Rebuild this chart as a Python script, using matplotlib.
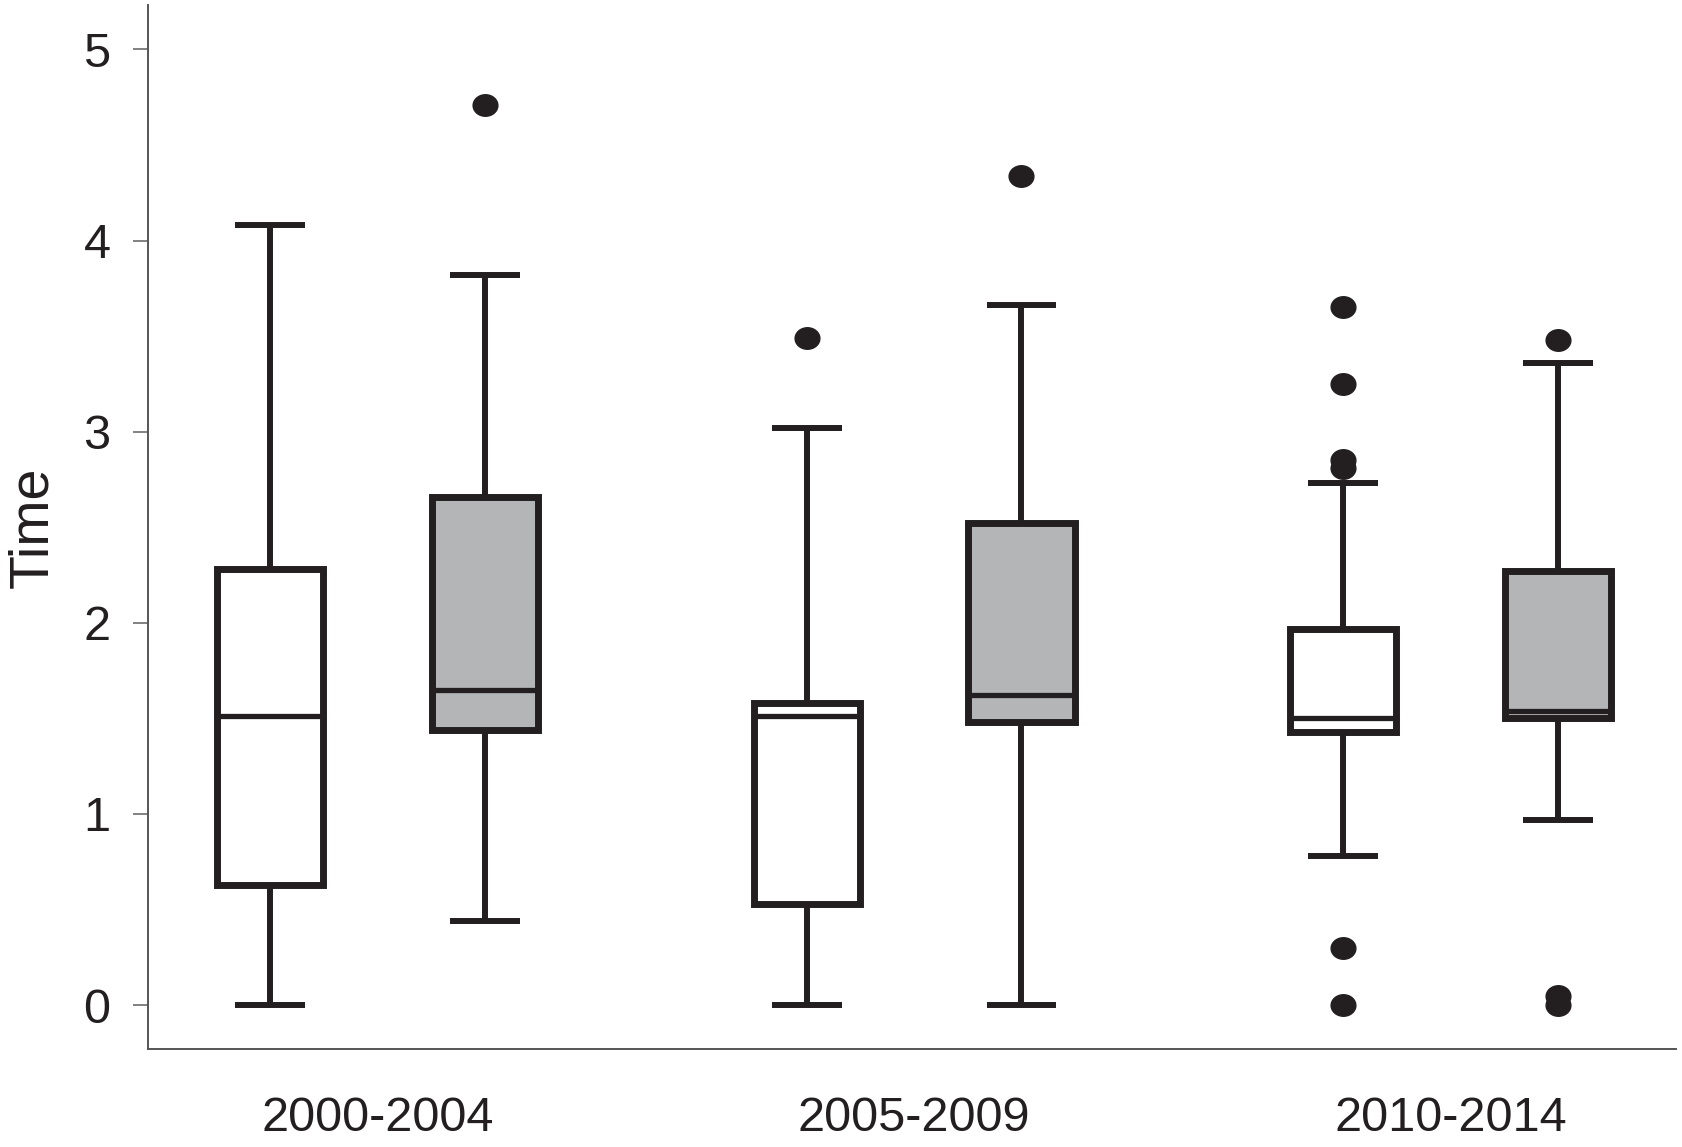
import matplotlib
matplotlib.use("Agg")
import matplotlib.pyplot as plt
from matplotlib.markers import MarkerStyle
from matplotlib.transforms import Affine2D

# ---- data ----
periods = ["2000-2004", "2005-2009", "2010-2014"]

# white boxes (first series in each period)
white_whislo = [0.00, 0.00, 0.78]
white_q1     = [0.63, 0.53, 1.43]
white_med    = [1.51, 1.51, 1.50]
white_q3     = [2.28, 1.58, 1.97]
white_whishi = [4.08, 3.02, 2.73]
white_fliers = [[], [3.49], [3.65, 3.25, 2.85, 2.81, 0.30, 0.00]]

# grey boxes (second series in each period)
grey_whislo = [0.44, 0.00, 0.97]
grey_q1     = [1.44, 1.48, 1.50]
grey_med    = [1.65, 1.62, 1.54]
grey_q3     = [2.66, 2.52, 2.27]
grey_whishi = [3.82, 3.66, 3.36]
grey_fliers = [[4.71], [4.34], [3.48, 0.05, 0.00]]

yticks = [0, 1, 2, 3, 4, 5]

# ---- styling ----
EDGE = "#231f20"
GREY = "#b4b5b7"
FONT = ["Liberation Sans", "DejaVu Sans"]
plt.rcParams["font.family"] = FONT

fig = plt.figure(figsize=(16.82, 11.47), dpi=100)
ax = fig.add_axes([0.088, 0.0854, 0.9084, 0.9099])

def stats(whislo, q1, med, q3, whishi, fliers):
    out = []
    for i in range(len(med)):
        out.append(dict(whislo=whislo[i], q1=q1[i], med=med[i], q3=q3[i],
                        whishi=whishi[i], fliers=fliers[i]))
    return out

centers = [1, 2, 3]
off = 0.2
dot = MarkerStyle("o", transform=Affine2D().scale(1.15, 1.0))

common = dict(widths=0.198, capwidths=0.13, patch_artist=True,
              showfliers=True,
              whiskerprops=dict(color=EDGE, linewidth=4.3, solid_capstyle="butt"),
              capprops=dict(color=EDGE, linewidth=4.3, solid_capstyle="butt"),
              medianprops=dict(color=EDGE, linewidth=3.8, solid_capstyle="butt"),
              flierprops=dict(marker=dot, markersize=15.5, markerfacecolor=EDGE,
                              markeredgecolor=EDGE, linestyle="none"))

ax.bxp(stats(white_whislo, white_q1, white_med, white_q3, white_whishi, white_fliers),
       positions=[c - off for c in centers],
       boxprops=dict(facecolor="white", edgecolor=EDGE, linewidth=5.0),
       **common)
ax.bxp(stats(grey_whislo, grey_q1, grey_med, grey_q3, grey_whishi, grey_fliers),
       positions=[c + off for c in centers],
       boxprops=dict(facecolor=GREY, edgecolor=EDGE, linewidth=5.0),
       **common)

ax.set_xlim(0.572, 3.42)
ax.set_ylim(-0.23, 5.23)
ax.set_xticks(centers)
ax.set_xticklabels(periods)
ax.set_yticks(yticks)
ax.set_yticklabels([str(t) for t in yticks])

for s in ["top", "right"]:
    ax.spines[s].set_visible(False)
for s in ["left", "bottom"]:
    ax.spines[s].set_color("#555555")
    ax.spines[s].set_linewidth(1.4)

ax.tick_params(axis="x", length=0, pad=34, labelsize=35, colors="#231f20")
ax.tick_params(axis="y", length=11, width=1.3, color="#777777", pad=16,
               labelsize=35, labelcolor="#231f20")

ax.set_ylabel("Time", fontsize=40, color="#231f20")
ax.yaxis.set_label_coords(-0.058, 0.5)

fig.savefig("out.png", dpi=100)
